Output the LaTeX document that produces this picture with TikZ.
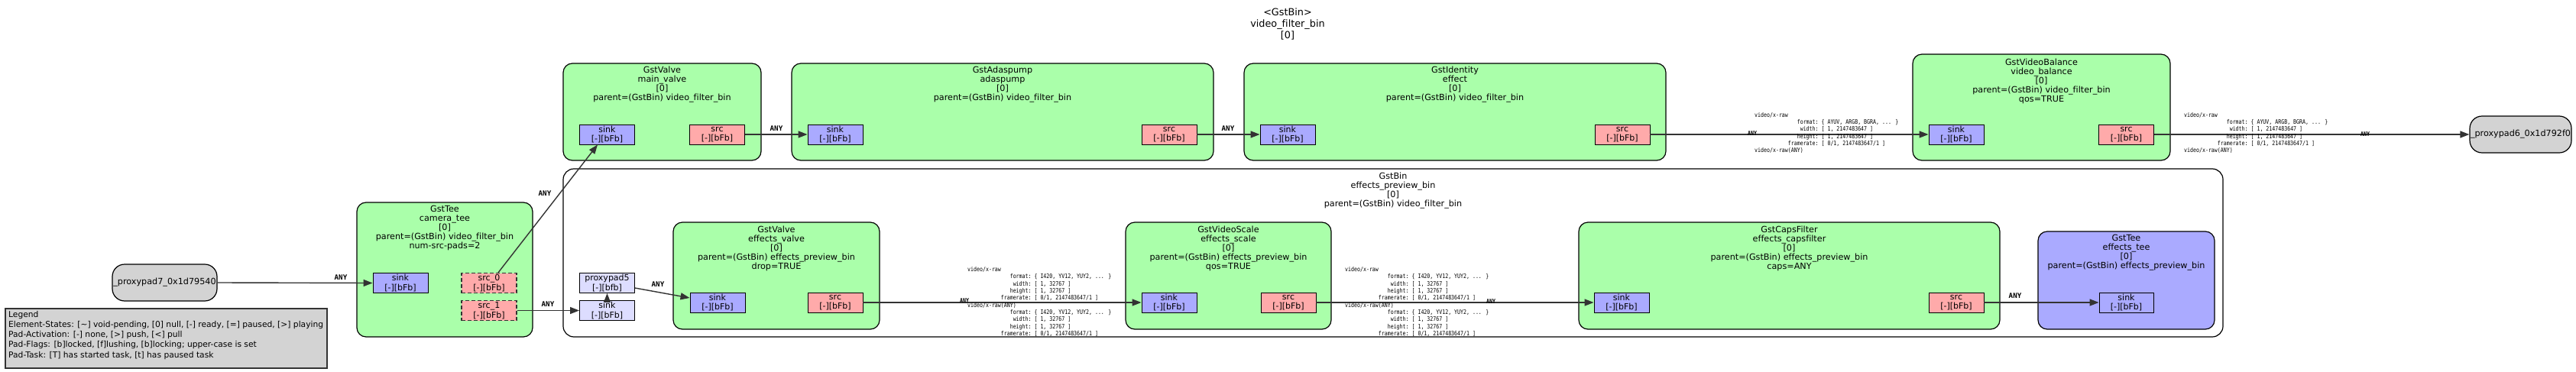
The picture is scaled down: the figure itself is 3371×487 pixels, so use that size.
\documentclass[tikz,border=0pt]{standalone}
\usepackage{fontspec}
\setmainfont{DejaVu Sans}[Ligatures=NoCommon]
\newfontfamily\capsfont[FakeStretch=0.825]{DejaVu Sans Mono}
\newfontfamily\anyfont{DejaVu Sans Mono}
\usetikzlibrary{arrows.meta,fit,calc}
\definecolor{elemgreen}{HTML}{AAFFAA}
\definecolor{sinkblue}{HTML}{AAAAFF}
\definecolor{srcred}{HTML}{FFAAAA}
\definecolor{ghostcol}{HTML}{DDDDFF}
\definecolor{lgrey}{HTML}{D3D3D3}
\definecolor{edgecol}{HTML}{333333}
\newcommand\cf[2]{\makebox[83.4pt][r]{#1:}\hspace{3.97pt}#2}
\tikzset{
  elembox/.style={draw=black, line width=1.2pt, rounded corners=12pt, fill=elemgreen, inner sep=0pt},
  teebox/.style={elembox, fill=sinkblue},
  binbox/.style={draw=black, line width=1.2pt, rounded corners=14pt, fill=white, inner sep=0pt},
  extpad/.style={draw=black, line width=1.2pt, rounded corners=16pt, fill=lgrey, inner sep=0pt},
  legendbox/.style={draw=black!80, line width=1.2pt, fill=lgrey, inner sep=0pt},
  etext/.style={align=center, inner sep=0pt, font=\fontsize{11.2}{12}\selectfont},
  titletext/.style={align=center, inner sep=0pt, font=\fontsize{12.8}{15.3}\selectfont},
  legtext/.style={align=left, inner sep=0pt, anchor=north west, font=\fontsize{10.7}{13.2}\selectfont},
  padbase/.style={draw=black, line width=0.9pt, minimum width=72pt, minimum height=26pt, inner sep=0pt, align=center, font=\fontsize{11}{12.5}\selectfont},
  sinkpad/.style={padbase, fill=sinkblue},
  srcpad/.style={padbase, fill=srcred},
  reqpad/.style={srcpad, line width=1.3pt, dash pattern=on 5pt off 3pt, draw=black!80},
  ghostpad/.style={padbase, fill=ghostcol},
  conn/.style={draw=edgecol, line width=1.4pt, -{Triangle[length=12pt,width=9pt]}},
  anylbl/.style={inner sep=0pt, font=\anyfont\bfseries\fontsize{9.2}{10}\selectfont},
  smallany/.style={inner sep=0pt, font=\capsfont\bfseries\fontsize{8}{9.3}\selectfont},
  capsblk/.style={inner sep=0pt, anchor=west, align=left, font=\capsfont\fontsize{8}{9.3}\selectfont},
}
\begin{document}
\begin{tikzpicture}[x=1pt, y=-1pt]
\fill[white] (0,0) rectangle (3371,487);
\useasboundingbox (0,0) rectangle (3371,487);

% title
\node[titletext] (title) at (1685,31.5) {<GstBin>\\video\_filter\_bin\\{[0]}};

% legend
\node[legendbox, fit={(7,404) (428,482)}] (legend) {};
\node[legtext] (legendtext) at (11,407) {Legend\\Element-States: [\textasciitilde] void-pending, [0] null, [-] ready, [=] paused, [>] playing\\Pad-Activation: [-] none, [>] push, [<] pull\\Pad-Flags: [b]locked, [f]lushing, [b]locking; upper-case is set\\Pad-Task: [T] has started task, [t] has paused task};

% external proxy pads
\node[extpad, fit={(147,346) (284,394)}] (pp7) {};
\node[etext] (pp7t) at (pp7.center) {\_proxypad7\_0x1d79540};
\node[extpad, fit={(3232,152) (3365,200)}] (pp6) {};
\node[etext] (pp6t) at (pp6.center) {\_proxypad6\_0x1d792f0};

% effects_preview_bin cluster
\node[binbox, fit={(737,221) (2909,441)}] (epb) {};
\node[etext] (epbt) at (1823,250) {GstBin\\effects\_preview\_bin\\{[0]}\\parent=(GstBin) video\_filter\_bin};

% camera_tee
\node[elembox, fit={(467,265) (697,441)}] (camtee) {};
\node[etext] (camteet) at (582,299) {GstTee\\camera\_tee\\{[0]}\\parent=(GstBin) video\_filter\_bin\\num-src-pads=2};
\node[sinkpad] (camsink) at (524,370.5) {sink\\{[-][bFb]}};
\node[reqpad] (camsrc0) at (640,370.5) {src\_0\\{[-][bFb]}};
\node[reqpad] (camsrc1) at (640,406.5) {src\_1\\{[-][bFb]}};

% main_valve
\node[elembox, fit={(737,83) (996,210)}] (mainvalve) {};
\node[etext] (mainvalvet) at (866.5,111) {GstValve\\main\_valve\\{[0]}\\parent=(GstBin) video\_filter\_bin};
\node[sinkpad] (mvsink) at (794.5,176) {sink\\{[-][bFb]}};
\node[srcpad] (mvsrc) at (938.5,176) {src\\{[-][bFb]}};

% adaspump
\node[elembox, fit={(1036,83) (1588,210)}] (adaspump) {};
\node[etext] (adaspumpt) at (1312,111) {GstAdaspump\\adaspump\\{[0]}\\parent=(GstBin) video\_filter\_bin};
\node[sinkpad] (adsink) at (1093,176) {sink\\{[-][bFb]}};
\node[srcpad] (adsrc) at (1530,176) {src\\{[-][bFb]}};

% effect
\node[elembox, fit={(1628,83) (2180,210)}] (effect) {};
\node[etext] (effectt) at (1904,111) {GstIdentity\\effect\\{[0]}\\parent=(GstBin) video\_filter\_bin};
\node[sinkpad] (efsink) at (1685,176) {sink\\{[-][bFb]}};
\node[srcpad] (efsrc) at (2123,176) {src\\{[-][bFb]}};

% video_balance
\node[elembox, fit={(2503,71) (2840,210)}] (vbal) {};
\node[etext] (vbalt) at (2671.5,106) {GstVideoBalance\\video\_balance\\{[0]}\\parent=(GstBin) video\_filter\_bin\\qos=TRUE};
\node[sinkpad] (vbsink) at (2560,176) {sink\\{[-][bFb]}};
\node[srcpad] (vbsrc) at (2782.5,176) {src\\{[-][bFb]}};

% ghost pads of effects_preview_bin
\node[ghostpad] (pp5) at (794.5,370.5) {proxypad5\\{[-][bfb]}};
\node[ghostpad] (epbsink) at (794.5,406.5) {sink\\{[-][bFb]}};

% effects_valve
\node[elembox, fit={(881,291) (1151,431)}] (effvalve) {};
\node[etext] (effvalvet) at (1016,325) {GstValve\\effects\_valve\\{[0]}\\parent=(GstBin) effects\_preview\_bin\\drop=TRUE};
\node[sinkpad] (evsink) at (939,396) {sink\\{[-][bFb]}};
\node[srcpad] (evsrc) at (1093,396) {src\\{[-][bFb]}};

% effects_scale
\node[elembox, fit={(1473,291) (1742,431)}] (effscale) {};
\node[etext] (effscalet) at (1607.5,325) {GstVideoScale\\effects\_scale\\{[0]}\\parent=(GstBin) effects\_preview\_bin\\qos=TRUE};
\node[sinkpad] (essink) at (1530,396) {sink\\{[-][bFb]}};
\node[srcpad] (essrc) at (1686,396) {src\\{[-][bFb]}};

% effects_capsfilter
\node[elembox, fit={(2066,291) (2617,431)}] (capsf) {};
\node[etext] (capsft) at (2341.5,325) {GstCapsFilter\\effects\_capsfilter\\{[0]}\\parent=(GstBin) effects\_preview\_bin\\caps=ANY};
\node[sinkpad] (cfsink) at (2122,396) {sink\\{[-][bFb]}};
\node[srcpad] (cfsrc) at (2560,396) {src\\{[-][bFb]}};

% effects_tee
\node[teebox, fit={(2667,303) (2898,431)}] (efftee) {};
\node[etext] (effteet) at (2782.5,331) {GstTee\\effects\_tee\\{[0]}\\parent=(GstBin) effects\_preview\_bin};
\node[sinkpad, minimum width=71pt] (etsink) at (2782.5,396) {sink\\{[-][bFb]}};

% connectors
\draw[conn] (pp7.east) -- (camsink.west);
\draw[conn] ([xshift=12pt]camsrc0.north) -- ([xshift=-12.5pt]mvsink.south);
\draw[conn] (camsrc1.east) -- (epbsink.west);
\draw[conn] (mvsrc.east) -- (adsink.west);
\draw[conn] (adsrc.east) -- (efsink.west);
\draw[conn] (efsrc.east) -- (vbsink.west);
\draw[conn] (vbsrc.east) -- (pp6.west);
\draw[conn] (epbsink.north) -- (pp5.south);
\draw[conn] ([yshift=-6.5pt]pp5.east) -- ([yshift=6pt]evsink.west);
\draw[conn] (evsrc.east) -- (essink.west);
\draw[conn] (essrc.east) -- (cfsink.west);
\draw[conn] (cfsrc.east) -- (etsink.west);

% plain ANY labels
\node[anylbl] (any1) at (446,363) {ANY};
\node[anylbl] (any2) at (713,253) {ANY};
\node[anylbl] (any3) at (717,398) {ANY};
\node[anylbl] (any4) at (1016,168) {ANY};
\node[anylbl] (any5) at (1607,168) {ANY};
\node[anylbl] (any6) at (861,372) {ANY};
\node[anylbl] (any7) at (2637,387) {ANY};

% caps labels
\node[capsblk] (capsA) at (2296,174) {video/x-raw\\
\cf{format}{\{ AYUV, ARGB, BGRA, ... \}}\\
\cf{width}{[ 1, 2147483647 ]}\\
\cf{height}{[ 1, 2147483647 ]}\\
\cf{framerate}{[ 0/1, 2147483647/1 ]}\\
video/x-raw(ANY)};
\node[smallany] (anyA) at (2293,175) {ANY};

\node[capsblk] (capsB) at (2858,174) {video/x-raw\\
\cf{format}{\{ AYUV, ARGB, BGRA, ... \}}\\
\cf{width}{[ 1, 2147483647 ]}\\
\cf{height}{[ 1, 2147483647 ]}\\
\cf{framerate}{[ 0/1, 2147483647/1 ]}\\
video/x-raw(ANY)};
\node[smallany] (anyB) at (3095,176) {ANY};

\node[capsblk] (capsC) at (1266,395) {video/x-raw\\
\cf{format}{\{ I420, YV12, YUY2, ... \}}\\
\cf{width}{[ 1, 32767 ]}\\
\cf{height}{[ 1, 32767 ]}\\
\cf{framerate}{[ 0/1, 2147483647/1 ]}\\
video/x-raw(ANY)\\
\cf{format}{\{ I420, YV12, YUY2, ... \}}\\
\cf{width}{[ 1, 32767 ]}\\
\cf{height}{[ 1, 32767 ]}\\
\cf{framerate}{[ 0/1, 2147483647/1 ]}};
\node[smallany] (anyC) at (1262,394) {ANY};

\node[capsblk] (capsD) at (1760,395) {video/x-raw\\
\cf{format}{\{ I420, YV12, YUY2, ... \}}\\
\cf{width}{[ 1, 32767 ]}\\
\cf{height}{[ 1, 32767 ]}\\
\cf{framerate}{[ 0/1, 2147483647/1 ]}\\
video/x-raw(ANY)\\
\cf{format}{\{ I420, YV12, YUY2, ... \}}\\
\cf{width}{[ 1, 32767 ]}\\
\cf{height}{[ 1, 32767 ]}\\
\cf{framerate}{[ 0/1, 2147483647/1 ]}};
\node[smallany] (anyD) at (1951,395) {ANY};
\end{tikzpicture}
\end{document}
